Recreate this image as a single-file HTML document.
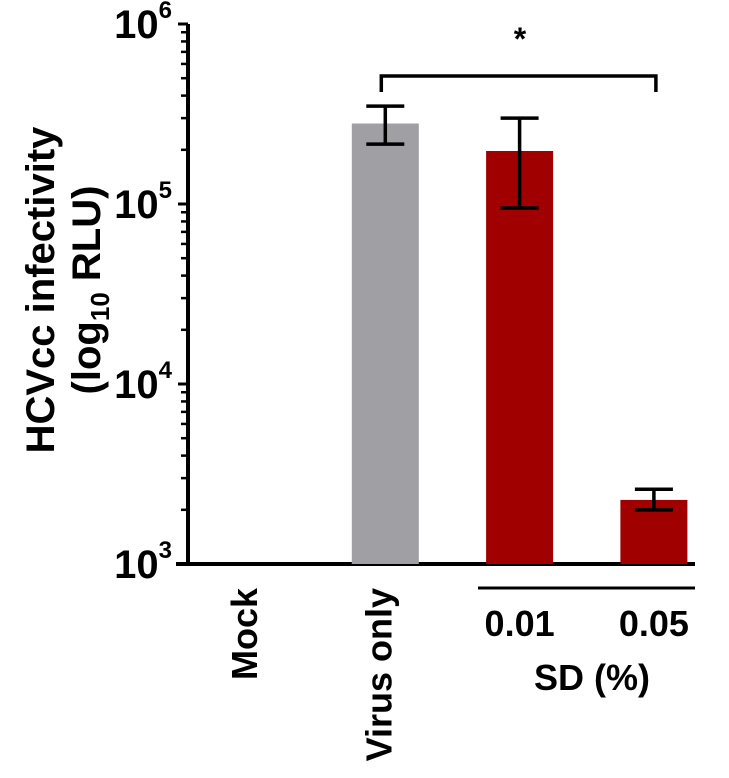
<!DOCTYPE html>
<html><head><style>
body{margin:0;background:#fff;}
svg text{font-family:"Liberation Sans",Arial,sans-serif;font-weight:bold;fill:#000;}
</style></head><body>
<svg id="chart" width="729" height="773" xmlns="http://www.w3.org/2000/svg"></svg>
<script>
const categories=["Mock","Virus only","0.01","0.05"];
const values=[null,280000,197000,2270];
const errHigh=[null,350000,300000,2600];
const errLow=[null,215000,95000,2000];
const colors=["#999","#a0a0a4","#a00000","#a00000"];
const tickExps=[3,4,5,6];
const NS="http://www.w3.org/2000/svg";
const svg=document.getElementById('chart');
const axX=188, y0=564, decade=180;
const xC=i=>251+i*134.3;
const y=v=>y0-(Math.log10(v)-3)*decade;
function mk(t,a,p){const e=document.createElementNS(NS,t);for(const k in a)e.setAttribute(k,a[k]);(p||svg).appendChild(e);return e;}
// axes
const ya=mk('line',{x1:axX,y1:y(1e6),x2:axX,y2:y0+1,stroke:'#000','stroke-width':4});


const xa=mk('line',{x1:axX-12,y1:y0,x2:695,y2:y0,stroke:'#000','stroke-width':4});


tickExps.forEach(e=>{
  const v=Math.pow(10,e);
  mk('line',{x1:axX-10,y1:y(v),x2:axX,y2:y(v),stroke:'#000','stroke-width':3});
  const t=mk('text',{x:axX-16,y:y(v)+14,'text-anchor':'end','font-size':40});
  
  
  t.textContent='10';
  const s=mk('tspan',{'font-size':24,dy:-20},t);s.textContent=String(e);
  if(e<6)for(let m=2;m<=9;m++){const yy=y(m*v);mk('line',{x1:axX-7,y1:yy,x2:axX,y2:yy,stroke:'#000','stroke-width':2.5});}
});
// bars
values.forEach((v,i)=>{
  if(v==null)return;
  const b=mk('rect',{x:xC(i)-33.5,y:y(v),width:67,height:y0-y(v),fill:colors[i]});
  
  
  const g=mk('g',{stroke:'#000','stroke-width':3.5,fill:'none'});
  
  
  mk('line',{x1:xC(i),y1:y(errHigh[i]),x2:xC(i),y2:y(errLow[i])},g);
  mk('line',{x1:xC(i)-19,y1:y(errHigh[i]),x2:xC(i)+19,y2:y(errHigh[i])},g);
  mk('line',{x1:xC(i)-19,y1:y(errLow[i]),x2:xC(i)+19,y2:y(errLow[i])},g);
});
// significance bracket
const br=mk('path',{d:`M${xC(1)-4} 92 V76 H${xC(3)+2} V92`,stroke:'#000','stroke-width':3.5,fill:'none'});


const st=mk('text',{x:520,y:50,'text-anchor':'middle','font-size':32});


st.textContent='*';
// x labels
[0,1].forEach(i=>{
  const t=mk('text',{transform:`translate(${xC(i)+6},588) rotate(-90)`,'text-anchor':'end','font-size':36});
  
  
  t.textContent=categories[i];
});
[2,3].forEach(i=>{
  const t=mk('text',{x:xC(i),y:636,'text-anchor':'middle','font-size':36});
  
  
  t.textContent=categories[i];
});
const ul=mk('line',{x1:478,y1:588,x2:695,y2:588,stroke:'#000','stroke-width':3});


const sd=mk('text',{x:592,y:690,'text-anchor':'middle','font-size':36});


sd.textContent='SD (%)';
// y title
const yt=mk('text',{transform:'translate(54,290) rotate(-90)','text-anchor':'middle','font-size':40});


yt.textContent='HCVcc infectivity';
const yt2=mk('text',{transform:'translate(100,290) rotate(-90)','text-anchor':'middle','font-size':40});


yt2.textContent='(log';
const sub=mk('tspan',{'font-size':26,dy:9},yt2);sub.textContent='10';
const rest=mk('tspan',{dy:-9},yt2);rest.textContent=' RLU)';
</script>
</body></html>
